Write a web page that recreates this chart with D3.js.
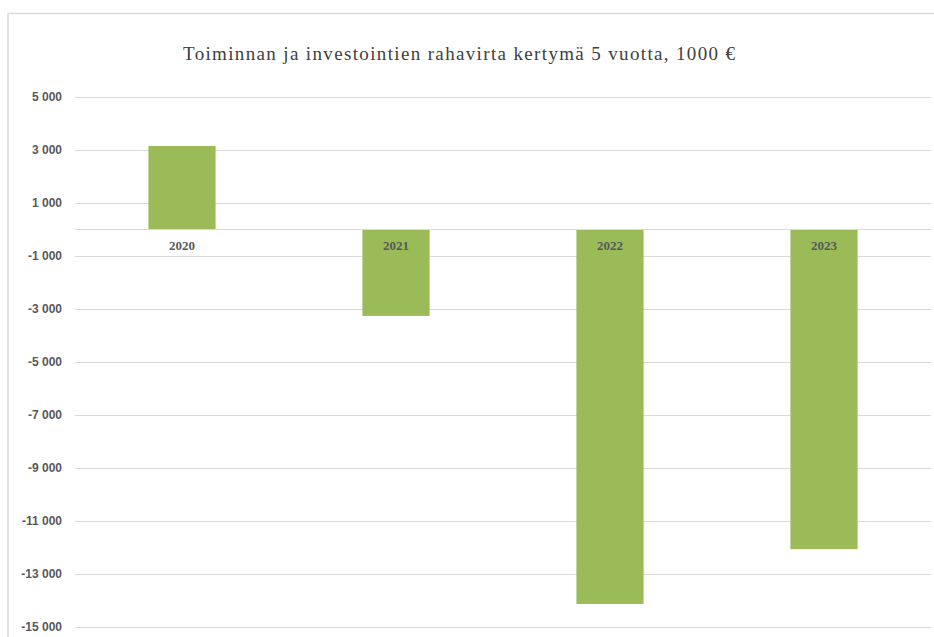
<!DOCTYPE html>
<html>
<head>
<meta charset="utf-8">
<script src="https://cdn.jsdelivr.net/npm/d3@7"></script>
<style>
    html, body { margin: 0; padding: 0; background: #fff; }
    svg { display: block; }
</style>
</head>
<body>
<div id="chart"></div>
<script>
// Kassavirta kertymä, 1000 €
const years = ['2020', '2021', '2022', '2023'];
const values = [3150, -3260, -14130, -12060];
const yTicks = [5000, 3000, 1000, -1000, -3000, -5000, -7000, -9000, -11000, -13000, -15000];
const chartTitle = 'Toiminnan ja investointien rahavirta kertymä 5 vuotta, 1000 €';

const width = 934;
const height = 637;
const margin = { top: 97, right: 3, bottom: 10, left: 75 };

const svg = d3.select('#chart').append('svg')
    .attr('width', width)
    .attr('height', height);

// chart frame (only top and left edges visible)
svg.append('path')
    .attr('d', 'M8,' + height + 'V13.5H' + width)
    .attr('fill', 'none')
    .attr('stroke', '#d9d9d9')
    .attr('stroke-width', 1.5);

// title is spread wider in the original, so stretch the spacing
svg.append('text')
    .attr('x', 459)
    .attr('y', 60)
    .attr('text-anchor', 'middle')
    .attr('font-family', '"Liberation Serif", "Times New Roman", serif')
    .attr('font-size', 19)
    .attr('fill', '#404040')
    .attr('textLength', 552)
    .attr('lengthAdjust', 'spacing')
    .text(chartTitle);

const x = d3.scaleBand()
    .domain(years)
    .range([margin.left, width - margin.right])
    .paddingInner(0.686)
    .paddingOuter(0.343);

const y = d3.scaleLinear()
    .domain([-15000, 5000])
    .range([627, margin.top]);

// gridlines + tick labels
const yAxis = d3.axisLeft(y)
    .tickValues(yTicks)
    .tickSize(-(width - margin.left - 3))
    .tickPadding(13)
    .tickFormat(d => d3.format(',')(d).replace(/,/g, ' ').replace('−', '-'));

const gy = svg.append('g')
    .attr('transform', 'translate(' + margin.left + ',0)')
    .call(yAxis);
gy.select('.domain').remove();
gy.selectAll('.tick line')
    .attr('stroke', '#d9d9d9')
    .attr('stroke-width', 1);
gy.selectAll('.tick text')
    .attr('font-family', '"Liberation Sans Narrow", "Arial Narrow", "Liberation Sans", sans-serif')
    .attr('font-size', 12)
    .attr('font-weight', 'bold')
    .attr('fill', '#595959');

// bars
svg.append('g')
    .selectAll('rect')
    .data(values)
    .enter().append('rect')
    .attr('x', (d, i) => x(years[i]))
    .attr('width', x.bandwidth())
    .attr('y', d => y(Math.max(0, d)))
    .attr('height', d => Math.abs(y(d) - y(0)))
    .attr('fill', '#9bbb59');

// zero line
svg.append('line')
    .attr('x1', margin.left)
    .attr('x2', width - 3)
    .attr('y1', y(0))
    .attr('y2', y(0))
    .attr('stroke', '#d9d9d9')
    .attr('stroke-width', 1);

// category labels next to the zero line
svg.append('g')
    .selectAll('text')
    .data(years)
    .enter().append('text')
    .attr('x', d => x(d) + x.bandwidth() / 2)
    .attr('y', y(0) + 20)
    .attr('text-anchor', 'middle')
    .attr('font-family', '"Liberation Serif", "Times New Roman", serif')
    .attr('font-size', 13)
    .attr('font-weight', 'bold')
    .attr('fill', '#595959')
    .text(d => d);
</script>
</body>
</html>
